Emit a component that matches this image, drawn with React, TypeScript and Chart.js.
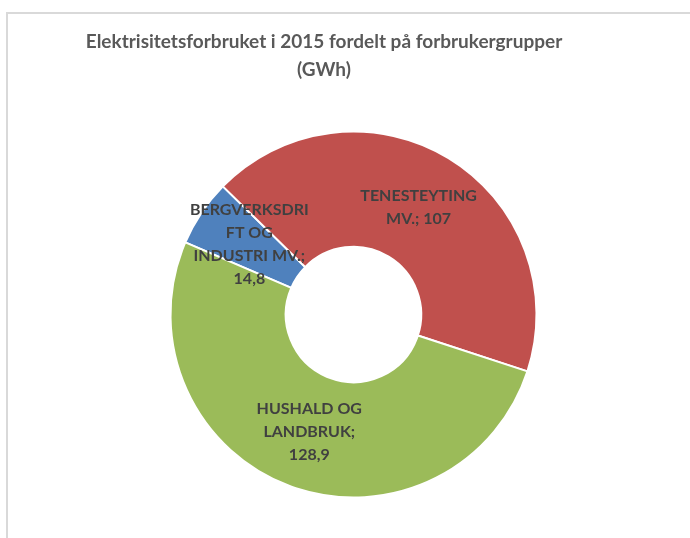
import React, { useEffect, useRef } from "react";
import { Chart, registerables } from "chart.js";

Chart.register(...registerables);

const categories = ["BERGVERKSDRIFT OG INDUSTRI MV.", "TENESTEYTING MV.", "HUSHALD OG LANDBRUK"];
const values = [14.8, 107, 128.9];
const valueLabels = ["14,8", "107", "128,9"];
const labelLines = [
  ["BERGVERKSDRI", "FT OG", "INDUSTRI MV.;", "14,8"],
  ["TENESTEYTING", "MV.; 107"],
  ["HUSHALD OG", "LANDBRUK;", "128,9"],
];
const colors = ["#4F81BD", "#C0504D", "#9BBB59"];
const titleLines = ["Elektrisitetsforbruket i 2015 fordelt på forbrukergrupper", "(GWh)"];

const FONT = "Lato, 'Open Sans', sans-serif";

const overlayPlugin = {
  id: "overlay",
  afterDatasetsDraw(chart: any) {
    const ctx = chart.ctx;
    ctx.save();
    // title
    ctx.fillStyle = "#595959";
    ctx.font = `bold 19px ${FONT}`;
    ctx.textAlign = "center";
    ctx.textBaseline = "middle";
    titleLines.forEach((t, i) => ctx.fillText(t, 324, 42 + i * 28));
    // labels
    const meta = chart.getDatasetMeta(0);
    ctx.fillStyle = "#404040";
    ctx.font = `bold 16px ${FONT}`;
    meta.data.forEach((arc: any, i: number) => {
      const p = arc.getProps(["x", "y", "startAngle", "endAngle", "innerRadius", "outerRadius"], true);
      const mid = (p.startAngle + p.endAngle) / 2;
      const r = (p.innerRadius + p.outerRadius) / 2;
      const cx = p.x + Math.cos(mid) * r;
      const cy = p.y + Math.sin(mid) * r;
      const lines = labelLines[i];
      const lh = 23;
      const top = cy - ((lines.length - 1) * lh) / 2;
      lines.forEach((l, j) => ctx.fillText(l, cx, top + j * lh));
    });
    ctx.restore();
  },
};

export default function App() {
  const ref = useRef<HTMLCanvasElement>(null);
  useEffect(() => {
    if (!ref.current) return;
    const chart = new Chart(ref.current, {
      type: "doughnut",
      data: {
        labels: categories,
        datasets: [
          {
            data: values,
            backgroundColor: colors,
            borderColor: "#FFFFFF",
            borderWidth: 2,
          },
        ],
      },
      options: {
        responsive: false,
        animation: false,
        rotation: -66.8,
        cutout: "37%",
        layout: { padding: { left: 169.5, right: 152.5, top: 130.5, bottom: 39.5 } },
        plugins: {
          legend: { display: false },
          title: { display: false },
          tooltip: { enabled: false },
        },
      },
      plugins: [overlayPlugin],
    });
    return () => chart.destroy();
  }, []);
  return (
    <div style={{ position: "fixed", left: 0, top: 0, width: 690, height: 538, background: "#fff", overflow: "hidden" }}>
      <div
        style={{
          position: "absolute",
          left: 6,
          top: 12,
          width: 800,
          height: 800,
          borderLeft: "2px solid #D9D9D9",
          borderTop: "2px solid #D9D9D9",
        }}
      />
      <canvas ref={ref} width={690} height={538} style={{ position: "absolute", left: 0, top: 0 }} />
    </div>
  );
}
